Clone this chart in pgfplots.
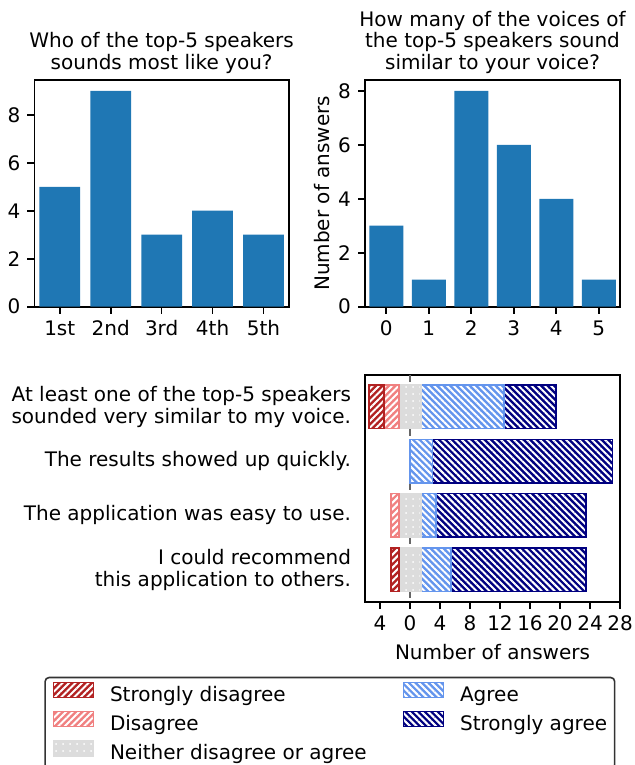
\documentclass[border=0pt]{standalone}
\usepackage{fontspec}
\setmainfont{DejaVu Sans}
\usepackage{pgfplots}
\pgfplotsset{compat=1.18}
\usetikzlibrary{patterns.meta}

\definecolor{c0}{HTML}{1F77B4}
\definecolor{sdcol}{HTML}{B22222}
\definecolor{dcol}{HTML}{F08080}
\definecolor{ncol}{HTML}{DCDCDC}
\definecolor{acol}{HTML}{6495ED}
\definecolor{sacol}{HTML}{000080}

\tikzset{
  fwd/.style={postaction={pattern={Lines[angle=45,distance=2.3pt,line width=1pt]},pattern color=white}},
  bwd/.style={postaction={pattern={Lines[angle=-45,distance=2.3pt,line width=1pt]},pattern color=white}},
  ndots/.style={postaction={pattern={Dots[distance=3.5pt,radius=0.5pt]},pattern color=white}},
}

\pgfplotsset{
  mpl/.style={
    scale only axis,
    axis line style={line width=0.8pt},
    tick style={line width=0.8pt,black},
    major tick length=3.5pt,
    tick align=outside,
    tick pos=left,
    tick label style={font=\fontsize{10}{12}\selectfont},
    label style={font=\fontsize{10}{12}\selectfont},
    /pgf/number format/assume math mode=true,
    title style={at={(0.5,1)},anchor=south,yshift=-3pt,inner sep=0pt,
      align=center,font=\fontsize{10}{10.85}\selectfont},
  },
  /pgfplots/area legend/.style={
    legend image code/.code={\draw[sharp corners,##1] (0pt,-0.5pt) rectangle (20pt,7pt);}},
}

\begin{document}
\begin{tikzpicture}
\useasboundingbox (0,-382.5pt) rectangle (317pt,0);

% left: who sounds most like you
\begin{axis}[mpl,
  at={(17.15pt,-153.35pt)}, anchor=south west,
  width=127.35pt, height=113.35pt,
  ybar, bar width=0.8,
  xmin=-0.5, xmax=4.5, ymin=0, ymax=9.45,
  xtick={0,1,2,3,4}, xticklabels={1st,2nd,3rd,4th,5th},
  ytick={0,2,4,6,8},
  title={Who of the top-5 speakers\\sounds most like you?},
]
\addplot[fill=c0, draw=none] coordinates {(0,5) (1,9) (2,3) (3,4) (4,3)};
\end{axis}

% right: how many voices sound similar
\begin{axis}[mpl,
  at={(182.5pt,-153.35pt)}, anchor=south west,
  width=127.5pt, height=113.35pt,
  ybar, bar width=0.8,
  xmin=-0.5, xmax=5.5, ymin=0, ymax=8.4,
  xtick={0,1,2,3,4,5},
  ytick={0,2,4,6,8},
  ylabel={Number of answers},
  ylabel style={yshift=-2.5pt},
  title={How many of the voices of\\the top-5 speakers sound\\similar to your voice?},
]
\addplot[fill=c0, draw=none] coordinates {(0,3) (1,1) (2,8) (3,6) (4,4) (5,1)};
\end{axis}

% bottom: likert statements (x axis shifted by 6 so that 0 answers sits at 6)
\begin{axis}[mpl,
  at={(182.5pt,-300.85pt)}, anchor=south west,
  width=127.5pt, height=113.5pt,
  xbar stacked, bar width=0.8,
  xmin=0, xmax=34, ymin=-0.59, ymax=3.59,
  y dir=reverse,
  ytick={0,1,2,3},
  yticklabels={{At least one of the top-5 speakers\\sounded very similar to my voice.},
    {The results showed up quickly.},
    {The application was easy to use.},
    {I could recommend\\this application to others.}},
  yticklabel style={align=right,font=\fontsize{10}{10.85}\selectfont},
  ytick style={draw=none},
  xtick={2,6,10,14,18,22,26,30,34},
  xticklabels={4,0,4,8,12,16,20,24,28},
  xlabel={Number of answers},
  legend columns=2,
  legend cell align=left,
  legend style={at={(-1.2576,-0.3304)}, anchor=north west,
    draw=black!80, rounded corners=2pt, line width=0.8pt,
    font=\fontsize{10}{12}\selectfont,
    inner xsep=3.8pt, inner ysep=2pt,
    nodes={inner sep=0pt, text height=7.6pt, text depth=2.4pt},
    row sep=2.2pt,
    /tikz/every odd column/.append style={column sep=7.85pt},
    /tikz/every even column/.append style={column sep=18pt}},
]
% invisible offset: start of each bar
\addplot[forget plot, draw=none, fill=none] coordinates {(0.5,0) (6,1) (3.5,2) (3.5,3)};
% strongly disagree, disagree, neither, agree, strongly agree
\addplot[forget plot, fill=sdcol, draw=sdcol, line width=0.8pt, fwd] coordinates {(2,0) (0,1) (0,2) (1,3)};
\addplot[forget plot, fill=dcol, draw=dcol, line width=0.8pt, fwd] coordinates {(2,0) (0,1) (1,2) (0,3)};
\addplot[forget plot, fill=ncol, draw=ncol, line width=0.8pt, ndots] coordinates {(3,0) (0,1) (3,2) (3,3)};
\addplot[forget plot, fill=acol, draw=acol, line width=0.8pt, bwd] coordinates {(11,0) (3,1) (2,2) (4,3)};
\addplot[forget plot, fill=sacol, draw=sacol, line width=0.8pt, bwd] coordinates {(7,0) (24,1) (20,2) (18,3)};
% zero line
\addplot[forget plot, stack plots=false, sharp plot, draw=black!60, line width=1.2pt,
  dash pattern=on 3.6pt off 1.8pt] coordinates {(6,-0.59) (6,3.59)};

\addlegendimage{area legend, fill=sdcol, draw=sdcol, fwd}
\addlegendentry{Strongly disagree}
\addlegendimage{area legend, fill=acol, draw=acol, bwd}
\addlegendentry{Agree}
\addlegendimage{area legend, fill=dcol, draw=dcol, fwd}
\addlegendentry{Disagree}
\addlegendimage{area legend, fill=sacol, draw=sacol, bwd}
\addlegendentry{Strongly agree}
\addlegendimage{area legend, fill=ncol, draw=ncol, ndots}
\addlegendentry{Neither disagree or agree}
\end{axis}
\end{tikzpicture}
\end{document}
